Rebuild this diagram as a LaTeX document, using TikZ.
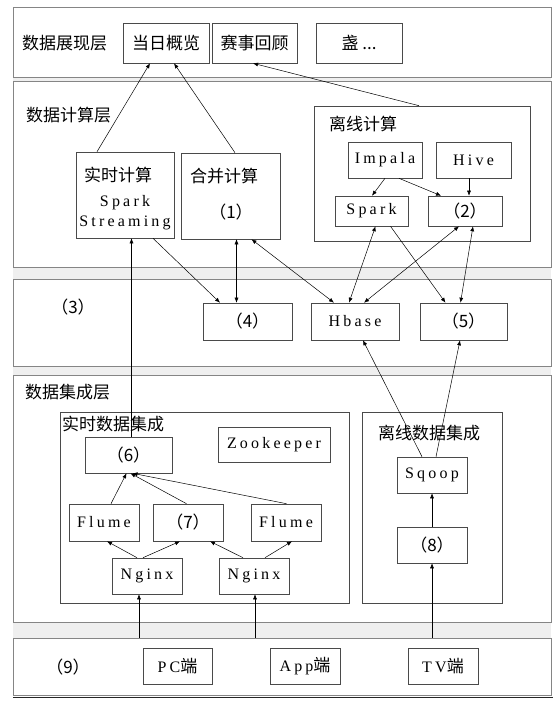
\documentclass[tikz,border=0pt]{standalone}
\usepackage{fontspec}
\setmainfont{Liberation Serif}
\newfontfamily\cjk{Noto Sans CJK SC}
\newfontfamily\en[LetterSpace=20]{Liberation Serif}
\usepackage{tikz}
\usetikzlibrary{positioning,calc,arrows.meta}
\definecolor{bandgray}{HTML}{EFEFEF}
\definecolor{framegray}{HTML}{858585}
\definecolor{boxgray}{HTML}{4A4A4A}
\tikzset{
  layer/.style={draw=framegray, fill=white, line width=0.8pt, minimum width=538pt, inner sep=0pt},
  frame/.style={draw=boxgray, line width=0.6pt, inner sep=0pt},
  box/.style={draw=boxgray, fill=white, line width=0.6pt, inner sep=0pt},
  cn/.style={font=\cjk\fontsize{17}{20}\selectfont, inner sep=0pt},
  en/.style={font=\en\fontsize{16}{19}\selectfont, inner sep=0pt},
  link/.style={->, line width=0.5pt},
  both/.style={<->, line width=0.5pt},
  >={Latex[length=5pt,width=4pt]}
}

\begin{document}
\begin{tikzpicture}[x=1pt,y=-1pt]
    \useasboundingbox (0,0) rectangle (559,709);
    \fill[bandgray] (13,7) rectangle (551,695);

    % Layers
    \node[layer, minimum height=70pt] (lay1) at (282,42) {};
    \node[layer, minimum height=186pt] (lay2) at (282,174) {};
    \node[layer, minimum height=87pt] (lay3) at (282,322.5) {};
    \node[layer, minimum height=247pt] (lay4) at (282,498.5) {};
    \node[layer, minimum height=57pt] (lay5) at (282,666.5) {};
    \draw[line width=1.6pt, black!85] (13,697.5) -- (553,697.5);

    % Presentation
    \node[cn, anchor=west] (t1) at (22,43) {数据展现层};
    \node[box, cn, minimum width=86pt, minimum height=40pt] (dangri) at (166,43) {当日概览};
    \node[box, cn, minimum width=85pt, minimum height=40pt] (saishi) at (254.5,43) {赛事回顾};
    \node[box, cn, minimum width=86pt, minimum height=40pt] (deng) at (359,43) {盏 ...};

    % Computing
    \node[cn, anchor=west] (t2) at (26,115) {数据计算层};
    \node[box, minimum width=98pt, minimum height=86pt] (ss) at (125,195) {};
    \node[cn] (ssa) at (118,175) {实时计算};
    \node[en] (ssb) at (125,203) {Spark};
    \node[en] (ssc) at (125,223) {Streaming};
    \node[box, minimum width=99pt, minimum height=86pt] (hb) at (230.5,196) {};
    \node[cn] (hba) at (224,176) {合并计算};
    \node[cn] (hbb) at (231,212) {（1）};
    \node[frame, minimum width=216pt, minimum height=135pt] (lixian) at (422,173.5) {};
    \node[cn] (tlx) at (363,124) {离线计算};
    \node[box, en, minimum width=74pt, minimum height=36pt] (impala) at (385,160) {Impala};
    \node[box, en, minimum width=75pt, minimum height=36pt] (hive) at (473.5,160) {Hive};
    \node[box, en, minimum width=73pt, minimum height=30pt] (spark) at (371.5,211) {Spark};
    \node[box, cn, minimum width=74pt, minimum height=30pt] (two) at (465,211) {（2）};

    % Storage
    \node[cn] (t3) at (73,307) {（3）};
    \node[box, cn, minimum width=89pt, minimum height=37pt] (four) at (247.5,321.5) {（4）};
    \node[box, en, minimum width=88pt, minimum height=37pt] (hbase) at (355,321.5) {Hbase};
    \node[box, cn, minimum width=87pt, minimum height=37pt] (five) at (463.5,321.5) {（5）};

    % Integration
    \node[cn, anchor=west] (t4) at (25,392) {数据集成层};
    \node[frame, minimum width=289pt, minimum height=191pt] (ssjc) at (204.5,507.5) {};
    \node[cn, anchor=west] (tss) at (62,424) {实时数据集成};
    \node[frame, minimum width=140pt, minimum height=191pt] (lxjc) at (432,507.5) {};
    \node[cn] (tlxjc) at (429,433) {离线数据集成};
    \node[box, en, minimum width=112pt, minimum height=35pt] (zk) at (274,444.5) {Zookeeper};
    \node[box, cn, minimum width=87pt, minimum height=36pt] (six) at (128.5,455) {（6）};
    \node[box, en, minimum width=70pt, minimum height=37pt] (flumea) at (104,522.5) {Flume};
    \node[box, cn, minimum width=70pt, minimum height=37pt] (seven) at (188,522.5) {（7）};
    \node[box, en, minimum width=70pt, minimum height=37pt] (flumeb) at (286,522.5) {Flume};
    \node[box, en, minimum width=70pt, minimum height=36pt] (nginxa) at (147,576) {Nginx};
    \node[box, en, minimum width=70pt, minimum height=36pt] (nginxb) at (254,576) {Nginx};
    \node[box, en, minimum width=70pt, minimum height=36pt] (sqoop) at (432,475) {Sqoop};
    \node[box, cn, minimum width=70pt, minimum height=36pt] (eight) at (432,545) {（8）};

    % Sources
    \node[cn] (t9) at (68,667) {（9）};
    \node[box, en, minimum width=69pt, minimum height=36pt] (pc) at (177.5,666) {PC{\cjk\fontsize{17}{20}\selectfont 端}};
    \node[box, en, minimum width=70pt, minimum height=36pt] (app) at (305,666) {App{\cjk\fontsize{17}{20}\selectfont 端}};
    \node[box, en, minimum width=70pt, minimum height=36pt] (tv) at (443,666) {TV{\cjk\fontsize{17}{20}\selectfont 端}};

    % Flows up to presentation
    \draw[link] ([xshift=-28pt]ss.north) -- ([xshift=-16pt]dangri.south);
    \draw[link] ([xshift=4.5pt]hb.north) -- ([xshift=8pt]dangri.south);
    \draw[link] ([xshift=-3pt]lixian.north) -- ([xshift=-1.5pt]saishi.south);

    % Offline computing
    \draw[link] (impala.south) -- ([xshift=0.5pt]spark.north);
    \draw[link] ([xshift=14pt]impala.south) -- ([xshift=-24pt]two.north);
    \draw[link] ([xshift=-4.5pt]hive.south) -- ([xshift=4pt]two.north);

    % Computing <-> storage
    \draw[link] ([xshift=28pt]ss.south) -- ([xshift=-27.5pt]four.north);
    \draw[both] ([xshift=6pt]hb.south) -- ([xshift=-11pt]four.north);
    \draw[both] ([xshift=21pt]hb.south) -- ([xshift=-21pt]hbase.north);
    \draw[both] ([xshift=4pt]spark.south) -- ([xshift=-6pt]hbase.north);
    \draw[both] ([xshift=-6pt]two.south) -- ([xshift=9pt]hbase.north);
    \draw[link] ([xshift=19pt]spark.south) -- ([xshift=-18pt]five.north);
    \draw[both] ([xshift=8pt]two.south) -- ([xshift=-3pt]five.north);

    % Integration -> up
    \draw[link] ([xshift=3pt]six.north) -- ([xshift=6.5pt]ss.south);
    \draw[link] ([xshift=-10pt]sqoop.north) -- ([xshift=8pt]hbase.south);
    \draw[link] ([xshift=4pt]sqoop.north) -- ([xshift=-3.5pt]five.south);
    \draw[link] (eight.north) -- (sqoop.south);
    \draw[link] ([xshift=7pt]flumea.north) -- ([xshift=-2pt]six.south);
    \draw[link] ([xshift=-1.5pt]seven.north) -- ([xshift=2pt]six.south);
    \draw[link] ([xshift=0.5pt]flumeb.north) -- ([xshift=4pt]six.south);
    \draw[link] ([xshift=-10pt]nginxa.north) -- ([xshift=3pt]flumea.south);
    \draw[link] ([xshift=-4pt]nginxa.north) -- ([xshift=-8pt]seven.south);
    \draw[link] ([xshift=-11pt]nginxb.north) -- ([xshift=22pt]seven.south);
    \draw[link] ([xshift=11pt]nginxb.north) -- ([xshift=6pt]flumeb.south);

    % Sources -> integration
    \coordinate (ina) at ([xshift=-8pt]nginxa.south);
    \coordinate (inb) at ([xshift=1pt]nginxb.south);
    \draw[link] (lay5.north -| ina) -- (ina);
    \draw[link] (lay5.north -| inb) -- (inb);
    \draw[link] (lay5.north -| eight.south) -- (eight.south);
\end{tikzpicture}
\end{document}
